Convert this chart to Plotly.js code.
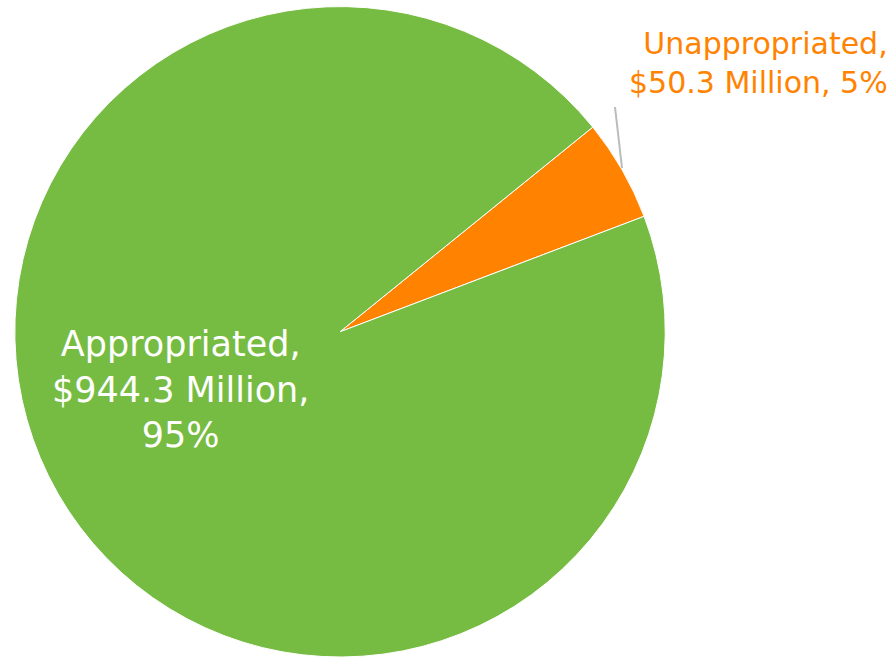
<!DOCTYPE html>
<html>
<head>
<meta charset="utf-8">
<script src="https://cdn.plot.ly/plotly-3.0.1.min.js"></script>
<style>html,body{margin:0;padding:0;background:#fff;}#chart{width:894px;height:657px;}</style>
</head>
<body>
<div id="chart"></div>
<script>
var categories = ["Unappropriated", "Appropriated"];
var amounts = [50.3, 944.3];
var percents = ["5%", "95%"];
var colors = ["#FF8300", "#77BC42"];

var trace = {
  type: "pie",
  labels: categories,
  values: amounts,
  sort: false,
  direction: "clockwise",
  rotation: 51,
  textinfo: "none",
  hoverinfo: "label+value+percent",
  marker: { colors: colors, line: { color: "#ffffff", width: 1 } },
  domain: { x: [0.0157, 0.745], y: [0, 0.99] },
  showlegend: false
};

var fontFam = "'DejaVu Sans', sans-serif";
var layout = {
  width: 894,
  height: 657,
  margin: { l: 0, r: 0, t: 0, b: 0 },
  paper_bgcolor: "#ffffff",
  showlegend: false,
  annotations: [
    {
      xref: "paper", yref: "paper",
      x: 890 / 894, y: 1 - 63 / 657,
      xanchor: "right", yanchor: "middle", align: "right",
      showarrow: false,
      text: categories[0] + ",<br>$" + amounts[0].toFixed(1) + " Million, " + percents[0],
      font: { family: fontFam, size: 30, color: colors[0], weight: 500 }
    },
    {
      xref: "paper", yref: "paper",
      x: 180 / 894, y: 1 - 389 / 657,
      xanchor: "center", yanchor: "middle", align: "center",
      showarrow: false,
      text: categories[1] + ",<br>$" + amounts[1].toFixed(1) + " Million,<br>" + percents[1],
      font: { family: fontFam, size: 35, color: "#ffffff", weight: 500 }
    }
  ],
  shapes: [
    {
      type: "line", xref: "paper", yref: "paper",
      x0: 615 / 894, y0: 1 - 107 / 657, x1: 622 / 894, y1: 1 - 168 / 657,
      line: { color: "#BBBBBB", width: 2 }
    }
  ]
};

Plotly.newPlot("chart", [trace], layout, { displayModeBar: false, staticPlot: true });
</script>
</body>
</html>
